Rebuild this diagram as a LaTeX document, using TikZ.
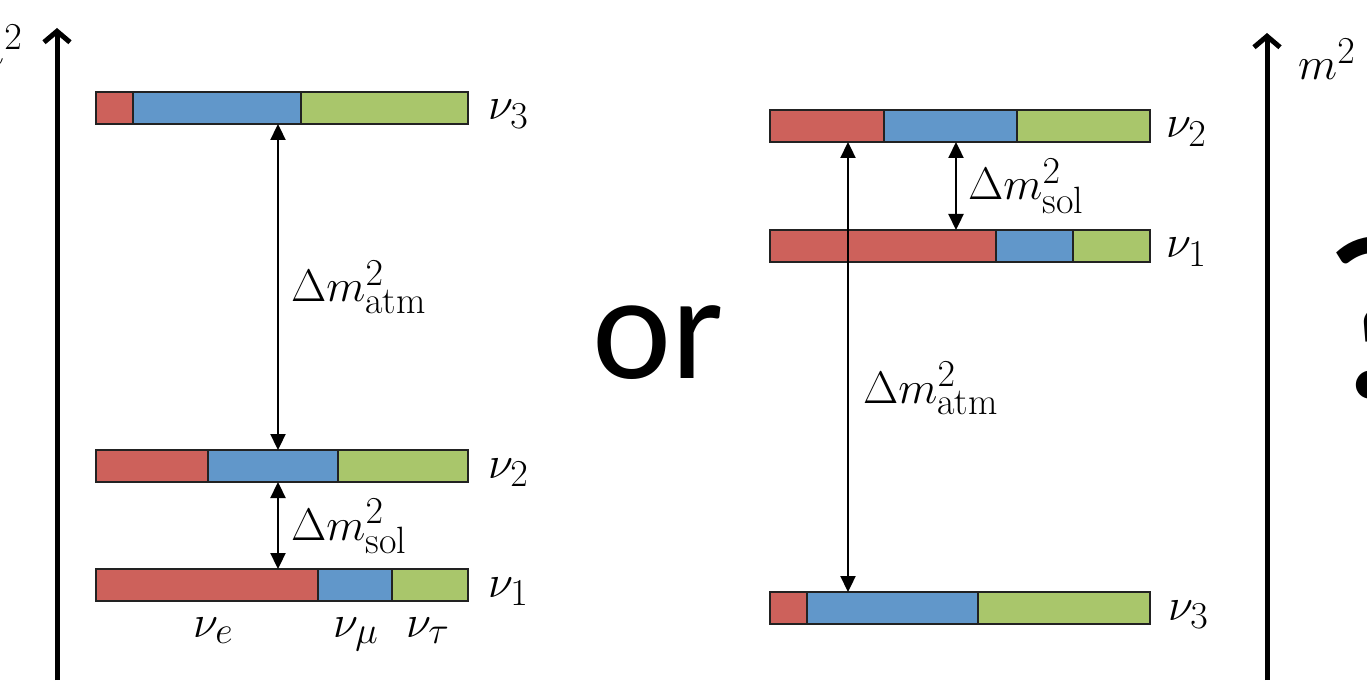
\documentclass[tikz,border=0pt]{standalone}
\usepackage{fontspec}
\newfontfamily\calibri{Carlito}
\usetikzlibrary{arrows.meta}
\DeclareMathSizes{20.74}{20.74}{17.28}{12}
\definecolor{cR}{HTML}{CD615B}
\definecolor{cB}{HTML}{6197CA}
\definecolor{cG}{HTML}{A9C66B}
\definecolor{edge}{HTML}{222222}
\newcommand\mt[1]{\scalebox{2.2}{\fontsize{20.74}{25}\selectfont$#1$}}
\newcommand\mixbar[6]{% name, top y, x0, xa, xb, x1
  \fill[cR] (#3,#2) rectangle (#4,#2+32);
  \fill[cB] (#4,#2) rectangle (#5,#2+32);
  \fill[cG] (#5,#2) rectangle (#6,#2+32);
  \draw[segline] (#4,#2) -- (#4,#2+32);
  \draw[segline] (#5,#2) -- (#5,#2+32);
  \node[barframe, minimum width={(#6-#3)*1pt}, anchor=north west] (#1) at (#3,#2) {};
}
\begin{document}
\begin{tikzpicture}[x=1pt,y=-1pt,
  segline/.style={draw=edge, line width=1.5pt},
  barframe/.style={draw=edge, line width=1.5pt, inner sep=0pt, outer sep=0pt, minimum height=32pt},
  dbl/.style={line width=2.3pt, {Triangle[length=16pt,width=15pt]}-{Triangle[length=16pt,width=15pt]}},
  axis/.style={line width=5pt, -{Straight Barb[length=11pt,width=26pt,line width=5pt]}},
  lbl/.style={inner sep=0pt, anchor=base west},
  bigtxt/.style={inner sep=0pt, anchor=base west}
]
\useasboundingbox (0,0) rectangle (1367,700);
\fill[white] (0,0) rectangle (1367,700);

% left axis
\coordinate (axLb) at (57,680);
\coordinate (axLt) at (57,28);
\draw[axis] (axLb) -- (axLt);
\node[lbl] (mL) at (-35,66) {\mt{m^2}};

% left bars
\mixbar{L3}{92}{96}{133}{301}{468}
\mixbar{L2}{450}{96}{208}{338}{468}
\mixbar{L1}{569}{96}{318}{392}{468}
\node[lbl] (nL3) at (488,120) {\mt{\nu_3}};
\node[lbl] (nL2) at (488,478) {\mt{\nu_2}};
\node[lbl] (nL1) at (488,597) {\mt{\nu_1}};
\node[lbl] (ne) at (193,637) {\mt{\nu_e}};
\node[lbl] (nmu) at (333,637) {\mt{\nu_\mu}};
\node[lbl] (ntau) at (406,637) {\mt{\nu_\tau}};

\coordinate (xl) at (278,0);
\draw[dbl] (xl |- L3.south) -- (xl |- L2.north);
\draw[dbl] (xl |- L2.south) -- (xl |- L1.north);
\node[lbl] (atmL) at (291,302) {\mt{\Delta m^2_{\mathrm{atm}}}};
\node[lbl] (solL) at (291,540) {\mt{\Delta m^2_{\mathrm{sol}}}};

% or
\node[bigtxt, font=\calibri\fontsize{150}{160}\selectfont] (or) at (592,378) {or};

% right bars
\mixbar{R2}{110}{770}{884}{1017}{1150}
\mixbar{R1}{230}{770}{996}{1073}{1150}
\mixbar{R3}{592}{770}{807}{978}{1150}
\node[lbl] (nR2) at (1166,138) {\mt{\nu_2}};
\node[lbl] (nR1) at (1166,258) {\mt{\nu_1}};
\node[lbl] (nR3) at (1168,620) {\mt{\nu_3}};

\coordinate (xa) at (848,0);
\coordinate (xs) at (956,0);
\draw[dbl] (xa |- R2.south) -- (xa |- R3.north);
\draw[dbl] (xs |- R2.south) -- (xs |- R1.north);
\node[lbl] (solR) at (968,200) {\mt{\Delta m^2_{\mathrm{sol}}}};
\node[lbl] (atmR) at (863,403) {\mt{\Delta m^2_{\mathrm{atm}}}};

% right axis
\coordinate (axRb) at (1267,680);
\coordinate (axRt) at (1267,33);
\draw[axis] (axRb) -- (axRt);
\node[lbl] (mR) at (1298,80) {\mt{m^2}};

% question mark
\node[bigtxt, font=\calibri\fontsize{235}{250}\selectfont] (q) at (1322,397) {?};
\end{tikzpicture}
\end{document}
